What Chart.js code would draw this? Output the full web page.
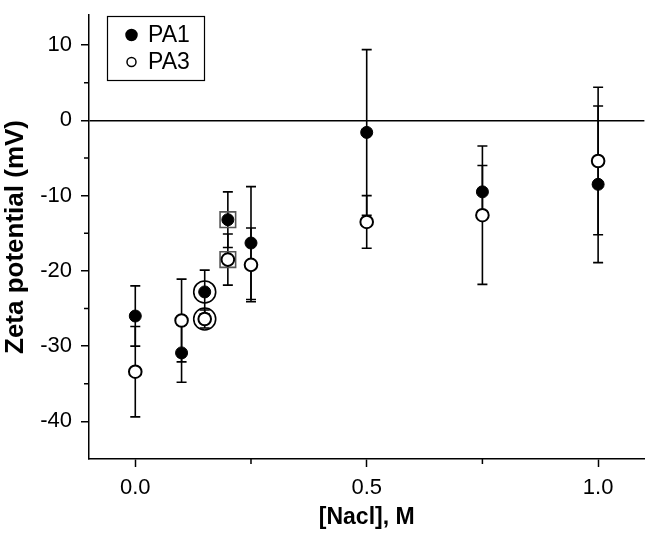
<!DOCTYPE html>
<html>
<head>
<meta charset="utf-8">
<script src="https://cdn.jsdelivr.net/npm/chart.js@4.4.1/dist/chart.umd.min.js"></script>
<style>
  html, body { margin:0; padding:0; background:#fff; }
</style>
</head>
<body>
<canvas id="zeta" width="657" height="539"></canvas>
<script>
// [NaCl] concentrations, M
const nacl = [0, 0.1, 0.15, 0.2, 0.25, 0.5, 0.75, 1.0];

// zeta potential (mV) with error bars
const pa1    = [-26.0, -30.9, -22.8, -13.2, -16.3, -1.6, -9.5, -8.5];
const pa1Err = [4.0, 3.9, 2.9, 3.7, 7.5, 11.0, 3.5, 10.4];
const pa3    = [-33.4, -26.6, -26.4, -18.5, -19.2, -13.5, -12.6, -5.4];
const pa3Err = [6.0, 5.5, 1.2, 3.4, 4.9, 3.5, 9.2, 9.8];

// highlighted concentrations (rings / squares in the figure)
const ringAt = [0.15];
const boxAt = [0.2];

// ticks (empty label = minor tick)
const xTicks = [0, 0.25, 0.5, 0.75, 1.0];
const xLabels = ["0.0", "", "0.5", "", "1.0"];
const yTicks = [-40, -35, -30, -25, -20, -15, -10, -5, 0, 5, 10];
const yLabels = ["-40", "", "-30", "", "-20", "", "-10", "", "0", "", "10"];

const FONT = "'Liberation Sans', Arial, sans-serif";

// tools
const pts = arr => nacl.map((x, i) => ({ x, y: arr[i] }));
const pick = at => nacl.flatMap((x, i) => at.includes(x) ? [{ x, y: pa1[i] }, { x, y: pa3[i] }] : []);
const isMajor = (ticks, labels, v) => labels[ticks.indexOf(v)] !== "";

// error bars, drawn under the markers
const errorBars = {
  id: "errorBars",
  beforeDatasetsDraw(chart){
    const { ctx, scales:{ x, y } } = chart;
    ctx.save();
    ctx.strokeStyle = "#000";
    ctx.lineWidth = 1.6;
    chart.data.datasets.forEach(ds => {
      if(!ds.err) return;
      ds.data.forEach((p, i) => {
        const px = x.getPixelForValue(p.x);
        const top = y.getPixelForValue(p.y + ds.err[i]);
        const bot = y.getPixelForValue(p.y - ds.err[i]);
        ctx.beginPath();
        ctx.moveTo(px, top); ctx.lineTo(px, bot);
        ctx.moveTo(px - 5, top); ctx.lineTo(px + 5, top);
        ctx.moveTo(px - 5, bot); ctx.lineTo(px + 5, bot);
        ctx.stroke();
      });
    });
    ctx.restore();
  }
};

// shorter minor ticks
const minorTicks = {
  id: "minorTicks",
  afterDraw(chart){
    const { ctx, chartArea:a, scales:{ x, y } } = chart;
    ctx.save();
    ctx.strokeStyle = "#000";
    ctx.lineWidth = 1.5;
    ctx.beginPath();
    xTicks.filter(v => !isMajor(xTicks, xLabels, v)).forEach(v => {
      const px = x.getPixelForValue(v);
      ctx.moveTo(px, a.bottom); ctx.lineTo(px, a.bottom + 5);
    });
    yTicks.filter(v => !isMajor(yTicks, yLabels, v)).forEach(v => {
      const py = y.getPixelForValue(v);
      ctx.moveTo(a.left, py); ctx.lineTo(a.left - 5, py);
    });
    ctx.stroke();
    ctx.restore();
  }
};

// boxed legend in the upper left corner
const boxLegend = {
  id: "boxLegend",
  afterDraw(chart){
    const { ctx } = chart;
    const items = chart.data.datasets.filter(d => d.inLegend);
    ctx.save();
    ctx.strokeStyle = "#000";
    ctx.lineWidth = 1.2;
    ctx.strokeRect(107.5, 16.5, 97, 64);
    ctx.font = "23px " + FONT;
    ctx.textBaseline = "middle";
    items.forEach((d, i) => {
      const cy = 35 + i * 27;
      ctx.beginPath();
      ctx.arc(131.5, cy, d.backgroundColor === "#000" ? 5.5 : 4.5, 0, Math.PI * 2);
      ctx.fillStyle = d.backgroundColor;
      ctx.fill();
      ctx.lineWidth = 1.5;
      ctx.stroke();
      ctx.fillStyle = "#000";
      ctx.fillText(d.label, 148, cy + 1);
    });
    ctx.restore();
  }
};

new Chart(document.getElementById("zeta"), {
  type: "scatter",
  data: {
    datasets: [
      { label: "PA1", inLegend: true, data: pts(pa1), err: pa1Err,
        pointRadius: 6, backgroundColor: "#000", borderColor: "#000", borderWidth: 1 },
      { label: "PA3", inLegend: true, data: pts(pa3), err: pa3Err,
        pointRadius: 6.3, backgroundColor: "#fff", borderColor: "#000", borderWidth: 2 },
      { label: "ring", data: pick(ringAt), pointStyle: "circle",
        pointRadius: 11, backgroundColor: "transparent", borderColor: "#000", borderWidth: 1.6 },
      { label: "box", data: pick(boxAt), pointStyle: "rect",
        pointRadius: 11, backgroundColor: "transparent", borderColor: "#555", borderWidth: 1.6 }
    ]
  },
  options: {
    responsive: false,
    animation: false,
    events: [],
    layout: { padding: { top: 15, right: 12, left: 0, bottom: 0 } },
    plugins: { legend: { display: false }, tooltip: { enabled: false } },
    scales: {
      x: {
        type: "linear", min: -0.1, max: 1.1,
        afterBuildTicks: s => { s.ticks = xTicks.map(v => ({ value: v })); },
        afterFit: s => { s.height = 80; s.paddingLeft = 0; s.paddingRight = 0; },
        ticks: {
          autoSkip: false, maxRotation: 0, padding: 8, color: "#000",
          font: { family: FONT, size: 22 },
          callback: v => xLabels[xTicks.indexOf(v)] ?? ""
        },
        grid: {
          drawOnChartArea: false, drawTicks: true, tickLength: 8, tickWidth: 1.5,
          tickColor: c => isMajor(xTicks, xLabels, c.tick.value) ? "#000" : "transparent"
        },
        border: { color: "#000", width: 1.5 },
        title: { display: true, text: "[Nacl], M", color: "#000", padding: { top: 8, bottom: 8 },
          font: { family: FONT, size: 23, weight: "bold" } }
      },
      y: {
        min: -45, max: 14,
        afterBuildTicks: s => { s.ticks = yTicks.map(v => ({ value: v })); },
        afterFit: s => { s.width = 89; s.paddingTop = 0; s.paddingBottom = 0; },
        ticks: {
          autoSkip: false, padding: 9, color: "#000",
          font: { family: FONT, size: 22 },
          callback: v => yLabels[yTicks.indexOf(v)] ?? ""
        },
        grid: {
          drawOnChartArea: true, drawTicks: true, tickLength: 8, tickWidth: 1.5,
          tickColor: c => isMajor(yTicks, yLabels, c.tick.value) ? "#000" : "transparent",
          color: c => c.tick && c.tick.value === 0 ? "#000" : "transparent", lineWidth: 1.5
        },
        border: { color: "#000", width: 1.5 },
        title: { display: true, text: "Zeta potential (mV)", color: "#000", padding: { top: 0, bottom: 0 },
          font: { family: FONT, size: 26, weight: "bold" } }
      }
    }
  },
  plugins: [errorBars, minorTicks, boxLegend]
});
</script>
</body>
</html>
